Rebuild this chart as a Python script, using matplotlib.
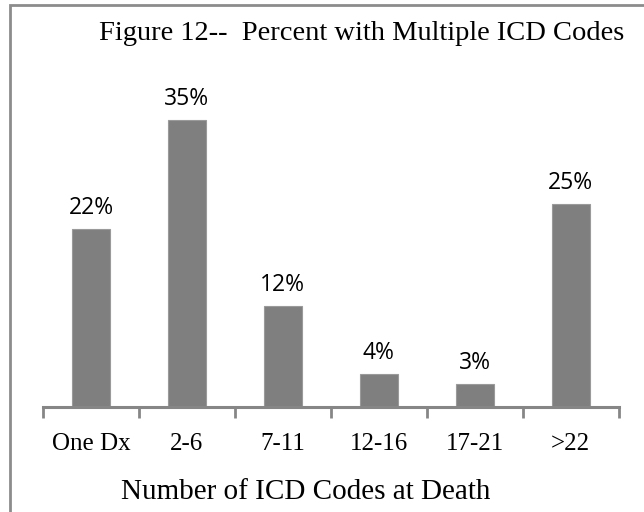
import matplotlib
matplotlib.use("Agg")
from matplotlib import pyplot as plt
from matplotlib.patches import Rectangle

categorias = ["One Dx", "2-6", "7-11", "12-16", "17-21", ">22"]
percentuais = [21.7, 35.0, 12.3, 4.0, 2.8, 24.8]
rotulos = ["22%", "35%", "12%", "4%", "3%", "25%"]

fig = plt.figure(figsize=(6.44, 5.12), dpi=100)
ax = fig.add_axes([0.0668, 0.205, 0.894, 0.641])

x = list(range(len(categorias)))
ax.bar(x, percentuais, width=0.4, color="#7f7f7f", edgecolor="#9a9a9a", linewidth=0.8)

for xi, v, r in zip(x, percentuais, rotulos):
    ax.text(xi, v + 1.8, r, ha="center", va="baseline", fontsize=16.5,
            family="Open Sans", color="black")

ax.set_xlim(-0.5, len(categorias) - 0.5)
ax.set_ylim(0, 40)
ax.set_yticks([])
for lado in ["top", "right", "left"]:
    ax.spines[lado].set_visible(False)
ax.spines["bottom"].set_color("#868686")
ax.spines["bottom"].set_linewidth(2.2)

# ticks entre as categorias, rotulos no centro
ax.set_xticks([i - 0.5 for i in range(len(categorias) + 1)])
ax.set_xticklabels([])
ax.tick_params(axis="x", which="major", length=8, width=2, color="#868686", direction="out")
ax.set_xticks(x, minor=True)
ax.set_xticklabels(categorias, minor=True, family="Liberation Serif", fontsize=18)
ax.tick_params(axis="x", which="minor", length=0, pad=19)

fig.text(0.475, 0.039, "Number of ICD Codes at Death", ha="center", va="center",
         family="Liberation Serif", fontsize=21)

fig.text(0.562, 0.935, "Figure 12--  Percent with Multiple ICD Codes", ha="center", va="center",
         family="Liberation Serif", fontsize=20.5)

# moldura do grafico (cortada a direita e embaixo)
fig.patches.append(Rectangle((10 / 644, -0.1), 1.2, 1.1 - 5 / 512, transform=fig.transFigure,
                             fill=False, edgecolor="#8c8c8c", linewidth=2, clip_on=False))

fig.savefig("out.png", dpi=100)
